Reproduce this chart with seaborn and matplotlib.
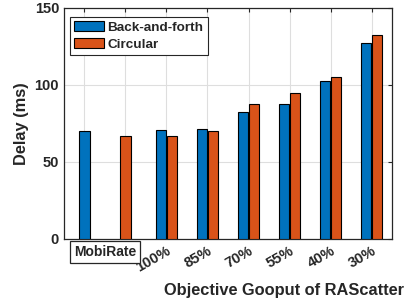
import matplotlib
matplotlib.use("Agg")
import matplotlib.pyplot as plt
import numpy as np
import pandas as pd
import seaborn as sns

# values
cats = ["MobiRate-B", "MobiRate-C", "100%", "85%", "70%", "55%", "40%", "30%"]
tick_labels = ["", "", "100%", "85%", "70%", "55%", "40%", "30%"]
back_forth = [70, np.nan, 71, 71.6, 82.3, 87.8, 102.5, 127]
circular = [np.nan, 67, 67, 70, 87.5, 95, 105, 132.5]
methods = ["Back-and-forth", "Circular"]
colors = ["#0072BD", "#D95319"]

df = pd.DataFrame({
    "cat": cats * 2,
    "method": [methods[0]] * len(cats) + [methods[1]] * len(cats),
    "delay": back_forth + circular,
}).dropna()

sns.set_style("white")
plt.rcParams["font.family"] = ["Liberation Sans", "DejaVu Sans"]
plt.rcParams["font.weight"] = "bold"

fig = plt.figure(figsize=(4.12, 3.07), dpi=100)
ax = fig.add_axes([0.1553, 0.2215, 0.7962, 0.7525])

sns.barplot(data=df, x="cat", y="delay", hue="method", order=cats,
            hue_order=methods, palette=colors, saturation=1, dodge=True,
            width=0.54, gap=0.1, edgecolor="black", linewidth=0.8,
            legend=False, ax=ax, zorder=3)

# single bars (MobiRate) sit centred on their tick
for cont in ax.containers:
    for bar in cont:
        cx = bar.get_x() + bar.get_width() / 2
        idx = int(round(cx))
        if idx in (0, 1):
            bar.set_width(0.29)
            bar.set_x(idx - 0.145)

ax.set_xlim(-0.5, len(cats) - 0.5)
ax.set_ylim(0, 150)
ax.set_yticks([0, 50, 100, 150])
ax.set_xticks(range(len(cats)))
ax.set_xticklabels(tick_labels, rotation=30, ha="right",
                   rotation_mode="anchor", fontsize=10.5, fontweight="bold",
                   color="#262626")
ax.tick_params(axis="y", labelsize=10.5, colors="#262626")
ax.tick_params(direction="in", top=True, right=True, length=3, width=0.8,
               color="#262626")
ax.grid(True, color="#dedede", linewidth=0.8, zorder=0)
ax.set_axisbelow(True)
for s in ax.spines.values():
    s.set_color("#262626")
    s.set_linewidth(0.9)

ax.set_ylabel("Delay (ms)", fontsize=11.8, fontweight="bold", color="#262626")
ax.set_xlabel("Objective Gooput of RAScatter", fontsize=11.8,
              fontweight="bold", color="#262626")
ax.xaxis.set_label_coords(0.672, -0.19)
ax.yaxis.set_label_coords(-0.108, 0.5)

ax.text(0.5, -0.055, "MobiRate", transform=ax.get_xaxis_transform(),
        ha="center", va="center", fontsize=10, fontweight="bold",
        bbox=dict(boxstyle="square,pad=0.3", facecolor="white",
                  edgecolor="#262626", linewidth=0.9))

handles = [plt.Rectangle((0, 0), 1, 1, facecolor=c, edgecolor="black",
                         linewidth=0.8) for c in colors]
leg = ax.legend(handles, methods, loc="upper left",
                bbox_to_anchor=(0.018, 0.961), borderaxespad=0,
                prop={"size": 9.7, "weight": "bold"}, fancybox=False,
                edgecolor="#262626", framealpha=1, handlelength=2.2,
                handleheight=0.75, handletextpad=0.3, labelspacing=0.35,
                borderpad=0.3)
leg.get_frame().set_linewidth(0.8)

fig.savefig("out.png", dpi=100)
